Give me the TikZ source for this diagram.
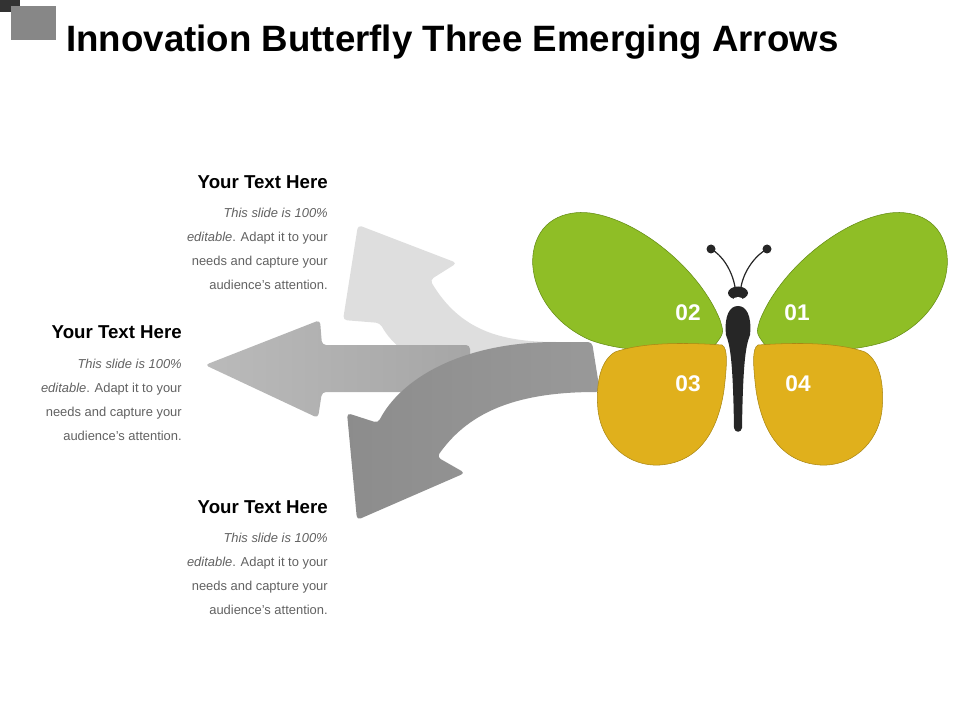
\documentclass[tikz,border=0pt]{standalone}
\usepackage{fontspec}
\setmainfont{Liberation Sans}
\begin{document}
\begin{tikzpicture}[x=0.75pt,y=-0.75pt,
  head/.style={font=\fontsize{14}{16}\selectfont\bfseries, anchor=east, inner sep=0pt},
  body/.style={font=\fontsize{9.7}{18}\selectfont, text=black!62, anchor=north east, align=right, inner sep=0pt},
  num/.style={font=\fontsize{17}{19}\selectfont\bfseries, text=white},
  arr/.style={rounded corners=3pt}]
\useasboundingbox (0,0) rectangle (960,720);
\fill[black!80] (0,0) rectangle (20,12);
\fill[black!47] (11,6) rectangle (56,40);
\node[anchor=west, font=\fontsize{27.5}{30}\selectfont\bfseries, inner sep=0pt] (title) at (66,42) {Innovation Butterfly Three Emerging Arrows};
% arrows
\fill[black!13, arr] (430,280) .. controls (460,330) and (500,342) .. (560,342) -- (560,392) .. controls (460,390) and (400,360) .. (380,323) -- (343,320) -- (358,225) -- (457,263) -- cycle;
\shade[left color=black!27, right color=black!35, arr] (322,345) -- (470,345) -- (470,392) -- (322,392) -- (318,418) -- (205,365) -- (320,320) -- cycle;
\shade[left color=black!45, right color=black!40, arr] (592,342) -- (560,342) .. controls (460,342) and (400,380) .. (378,423) -- (347,413) -- (357,520) -- (465,473) -- (437,457) .. controls (470,410) and (520,392) .. (600,392) -- cycle;
% wings
\begin{scope}[draw={rgb,255:red,100;green,140;blue,20}, line width=0.4pt]
\filldraw[fill={rgb,255:red,143;green,190;blue,38}] (715,345) .. controls (690,352) and (630,355) .. (590,340) .. controls (545,320) and (530,280) .. (533,255) .. controls (537,220) and (565,210) .. (590,213) .. controls (640,220) and (700,270) .. (720,320) .. controls (724,333) .. cycle;
\filldraw[fill={rgb,255:red,143;green,190;blue,38}] (765,345) .. controls (790,352) and (850,355) .. (890,340) .. controls (935,320) and (950,280) .. (947,255) .. controls (943,220) and (915,210) .. (890,213) .. controls (840,220) and (780,270) .. (760,320) .. controls (756,333) .. cycle;
\end{scope}
\begin{scope}[draw={rgb,255:red,170;green,135;blue,20}, line width=0.4pt]
\filldraw[fill={rgb,255:red,224;green,176;blue,28}] (722,345) .. controls (680,342) and (640,343) .. (615,352) .. controls (598,362) and (596,390) .. (598,410) .. controls (602,445) and (630,467) .. (660,465) .. controls (700,462) and (718,430) .. (724,390) .. controls (727,365) and (728,348) .. cycle;
\filldraw[fill={rgb,255:red,224;green,176;blue,28}] (758,345) .. controls (800,342) and (840,343) .. (865,352) .. controls (882,362) and (884,390) .. (882,410) .. controls (878,445) and (850,467) .. (820,465) .. controls (780,462) and (762,430) .. (756,390) .. controls (753,365) and (752,348) .. cycle;
\end{scope}
% body
\fill[black!85] (738,293) ellipse (10 and 6.5);
\fill[white] (738,300) ellipse (5 and 3);
\fill[black!85] (726,335) .. controls (724,315) and (730,306) .. (738,306) .. controls (746,306) and (752,315) .. (750,335) .. controls (746,345) and (743,360) .. (742,428) .. controls (741,433) and (735,433) .. (734,428) .. controls (733,360) and (730,345) .. cycle;
\draw[black!85, line width=0.9pt] (735,287) .. controls (732,270) and (722,255) .. (711,249);
\draw[black!85, line width=0.9pt] (741,287) .. controls (744,270) and (756,255) .. (767,249);
\fill[black!85] (711,249) circle (4.5);
\fill[black!85] (767,249) circle (4.5);
\node[num] (n2) at (688,313) {02};
\node[num] (n1) at (797,313) {01};
\node[num] (n3) at (688,384) {03};
\node[num] (n4) at (798,384) {04};
% texts
\node[head] (h1) at (328,182) {Your Text Here};
\node[body] (b1) at (328,208) {\textit{This slide is 100\%}\\\textit{editable}. Adapt it to your\\needs and capture your\\audience's attention.};
\node[head] (h2) at (182,332) {Your Text Here};
\node[body] (b2) at (182,359) {\textit{This slide is 100\%}\\\textit{editable}. Adapt it to your\\needs and capture your\\audience's attention.};
\node[head] (h3) at (328,507) {Your Text Here};
\node[body] (b3) at (328,533) {\textit{This slide is 100\%}\\\textit{editable}. Adapt it to your\\needs and capture your\\audience's attention.};
\end{tikzpicture}
\end{document}
